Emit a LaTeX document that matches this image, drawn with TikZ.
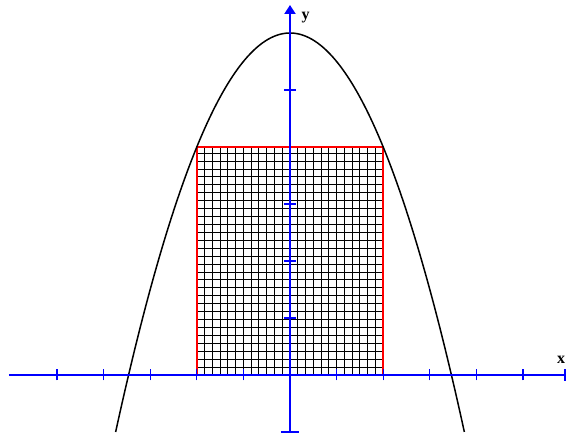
\documentclass[tikz,border=0pt]{standalone}
\usepackage{fontspec}
\setmainfont{Liberation Serif}
\usetikzlibrary{arrows.meta}
\begin{document}
\begin{tikzpicture}[x=46.6pt,y=57pt,
  gridline/.style={black,line width=0.9pt},
  boxline/.style={red,line width=1.5pt},
  curveline/.style={black,line width=1.5pt},
  axisline/.style={blue,line width=2pt},
  tickline/.style={blue,line width=1.1pt},
  axislabel/.style={inner sep=0pt,anchor=base west,font=\fontsize{16}{16}\selectfont\bfseries}]
\useasboundingbox (-290pt,-59pt) rectangle (276pt,375pt);
% grid
\foreach \i in {1,...,23} \draw[gridline] (-2+\i/6,0) -- (-2+\i/6,4);
\foreach \j in {1,...,28} \draw[gridline] (-2,\j*0.139) -- (2,\j*0.139);
\draw[tickline] (-6pt,4) -- (6pt,4);
\draw[boxline] (-2,0) rectangle (2,4);
% parabola
\draw[curveline,domain=-3.7417:3.7417,samples=120,smooth] plot (\x,{6-0.5*\x*\x});
% axes
\coordinate (xl) at (-281pt,0);
\coordinate (xr) at (275pt,0);
\coordinate (yb) at (0,-1);
\coordinate (yt) at (0,370pt);
\draw[axisline] (xl) -- (xr);
\draw[axisline,-{Triangle[width=11pt,length=9pt]}] (yb) -- (yt);
\foreach \k in {-5,...,-1,1,2,...,5} \draw[tickline] (\k,-5.5pt) -- (\k,5.5pt);
\draw[tickline] ([yshift=-6pt]xr) -- ([yshift=6pt]xr);
\foreach \k in {1,2,3,5} \draw[tickline] (-6pt,\k) -- (6pt,\k);
\draw[tickline] ([xshift=-9pt]yb) -- ([xshift=9pt]yb);
\node[axislabel] (ylabel) at (11.5pt,355.7pt) {y};
\node[axislabel] (xlabel) at (267pt,11.7pt) {x};
\end{tikzpicture}
\end{document}
